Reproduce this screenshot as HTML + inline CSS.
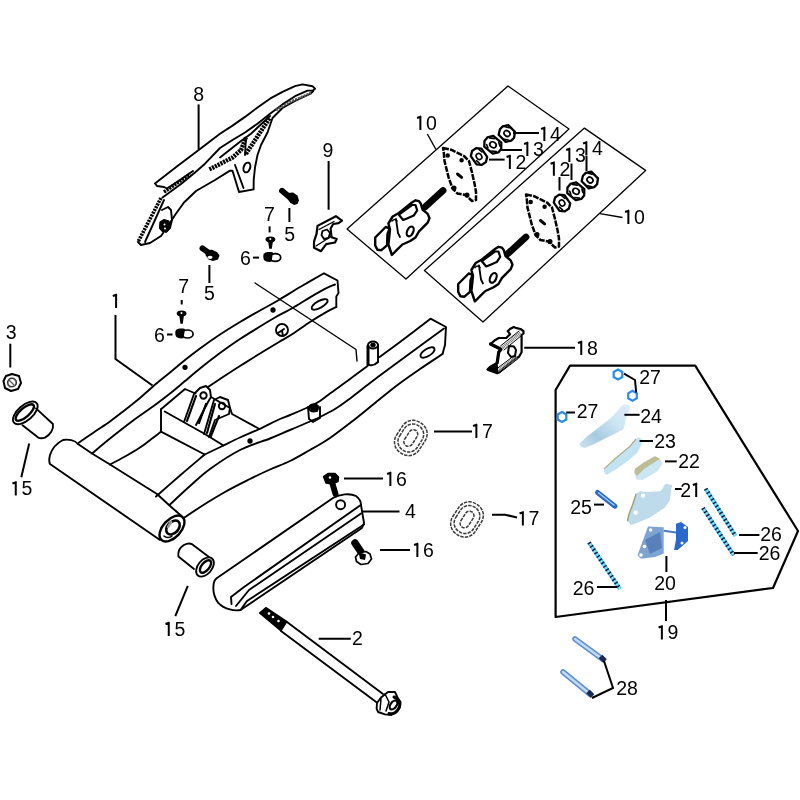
<!DOCTYPE html>
<html><head><meta charset="utf-8">
<style>
html,body{margin:0;padding:0;background:#fff;}
body{width:800px;height:800px;overflow:hidden;}
svg{display:block;}
.t{-webkit-font-smoothing:antialiased;}
.t{font-family:"Liberation Sans",sans-serif;font-size:19.5px;fill:#000;}
</style></head><body>
<svg width="800" height="800" viewBox="0 0 800 800">
<rect width="800" height="800" fill="#fff"/>
<g fill="none" stroke="#000" stroke-width="1.9" stroke-linejoin="round" stroke-linecap="round">

<!-- ===== Part 8 chain guard ===== -->
<g id="p8">
<path d="M313,90.6 L315,88.7 L312.5,86.2 L302.5,84.4 L295,86.2 L282.5,91.9 L270,98.7 L257.5,107.5 L245,116.9 L232.5,125.6 L220,133.7 L198.7,150 L177.5,166 L155,183.5 L157,186 L164,187 L167,188.5 L180,180 L193,171"/>
<path d="M313,90.6 L307.5,90.6 L295,96.2 L282.5,104.4 L270,113.7 L257.5,123.7 L245,132.5 L232.5,140 L220,148 L205,163.7 L195,172.5 L181,184 L166,195 L162.5,197.5"/>
<path d="M313,91.5 L310,94 L295,101 L282.5,108 L272.5,118 L267.5,132.5 L261,145 L257.5,155 L255,167.5 L253.7,180 L253.6,189.4 L239,192 L232.5,170.7 L230,170.6 L215,180 L196,191 L184,202.5 L175,215 L168,226 L161,236 L150,243 L141,245 L138,242"/>
<path d="M220,157.5 L241,141 L251,133.7 L270,116"/>
<g stroke-width="3.6" stroke-dasharray="2.2 0.9" stroke-linecap="butt">
<path d="M164,192 L190,174"/>
<path d="M161,198 L138,242"/>
<path d="M209.4,169.4 L220,164 L232.5,157.5 L241,150 L245,140 L246,137.5" stroke-width="4.4"/>
<path d="M246,153.7 L270,117.5" stroke-width="4.4"/>
<path d="M276,110 L290,102 L311,93" stroke-width="2.6" stroke="#555"/>
</g>
<path d="M246,137.5 L245,155 L246,153.7"/>
<path d="M164,200 L145,242"/>
<path d="M235,165 L243.5,188"/>
<ellipse cx="246.9" cy="167.5" rx="3.2" ry="5" transform="rotate(20 246.9 167.5)" stroke-width="2"/>
<path d="M160,222 L164,219.5 L169,221 L170,226.5 L167.5,231 L162.5,231.5 L159.5,228 Z" fill="#000" stroke-width="1.2"/>
<circle cx="164.5" cy="224.5" r="1" fill="#fff" stroke="none"/><circle cx="165" cy="228.5" r="1" fill="#fff" stroke="none"/>
<path d="M162,210 L168,207 L171,210 L172,220 L170,228 L166,232"/>
</g>

<!-- ===== Part 1 swingarm ===== -->
<g id="p1">
<path d="M79.0,442.5 C81.7,440.7 89.8,435.0 95.0,431.5 C100.2,428.0 105.0,425.1 110.0,421.5 C115.0,417.9 120.0,413.9 125.0,410.0 C130.0,406.1 135.3,401.9 140.0,398.0 C144.7,394.1 148.0,390.8 153.0,386.5 C158.0,382.2 164.7,376.9 170.0,372.5 C175.3,368.1 180.0,364.0 185.0,360.0 C190.0,356.0 194.2,352.8 200.0,348.5 C205.8,344.2 213.3,338.9 220.0,334.5 C226.7,330.1 233.3,326.0 240.0,322.0 C246.7,318.0 253.7,314.1 260.0,310.5 C266.3,306.9 271.2,304.5 278.0,300.5 C284.8,296.5 293.3,291.0 301.0,286.5 C308.7,282.0 320.2,275.5 324.0,273.3 L337.5,280.5 L338.5,293 L336.3,296.5 L336.3,307"/>
<path d="M92.0,453.5 C95.0,451.0 103.2,443.9 110.0,438.5 C116.8,433.1 125.0,426.6 132.5,421.0 C140.0,415.4 148.8,409.6 155.0,405.0 C161.2,400.4 165.0,397.5 170.0,393.5 C175.0,389.5 180.0,385.2 185.0,381.0 C190.0,376.8 194.2,373.2 200.0,368.5 C205.8,363.8 213.3,357.9 220.0,353.0 C226.7,348.1 233.3,343.4 240.0,339.0 C246.7,334.6 254.2,330.1 260.0,326.5 C265.8,322.9 269.6,320.6 275.0,317.5 C280.4,314.4 286.7,311.4 292.5,308.0 C298.3,304.6 304.2,300.8 310.0,297.4 C315.8,294.0 323.3,289.8 327.5,287.7 C331.7,285.6 333.8,285.0 335.0,284.5"/>
<path d="M208.0,387.0 C210.0,385.7 214.7,382.5 220.0,379.0 C225.3,375.5 233.3,370.2 240.0,366.0 C246.7,361.8 253.5,357.5 260.0,353.5 C266.5,349.5 273.6,345.2 279.0,342.0 C284.4,338.8 287.3,337.3 292.5,334.0 C297.7,330.7 304.2,325.8 310.0,322.0 C315.8,318.2 323.1,313.9 327.5,311.4 C331.9,308.9 334.8,307.7 336.3,307.0"/>
<path d="M110.0,464.5 C112.5,463.2 120.0,459.3 125.0,456.5 C130.0,453.7 135.5,450.5 140.0,447.5 C144.5,444.5 148.5,441.1 152.0,438.5 C155.5,435.9 159.5,432.8 161.0,431.7"/>
<ellipse cx="319.6" cy="304.4" rx="9" ry="3.4" transform="rotate(-29 319.6 304.4)"/>
<circle cx="273" cy="310" r="1.7" fill="#000"/>
<circle cx="185" cy="367.3" r="1.7" fill="#000"/>
<circle cx="282" cy="330" r="6"/>
<path d="M278,333 L284,329 M282,331 L283,336"/>
<!-- pivot tube -->
<path d="M78,444 C75,440 68,439 63,440 C57,443 52,449 50,455 C49,459 49,462 50,464 L160,540"/>
<path d="M78,444 L92,453.5 L110,464.5 L157,494 L169.5,505.5 L181.5,516"/>
<ellipse cx="172" cy="528.5" rx="15.5" ry="9" transform="rotate(-47 172 528.5)" stroke-width="2.4" fill="#fff"/>
<ellipse cx="173" cy="527.5" rx="8" ry="5.5" transform="rotate(-47 173 527.5)" stroke-width="2.6"/>
<path d="M168,527 L171,522" stroke="#999" stroke-width="2.5"/>
<path d="M164,536 C166,538 170,538 172,536" stroke-width="1.5"/>
<!-- cross-member box -->
<path d="M161,409.2 L161,431.7 L204.7,454.5 L223.5,445.5 L204,433.5 L164.7,411.5"/>
<path d="M161,409.2 L185,389 L195.5,393.5"/>
<path d="M230,408 L232,414 L259.5,429"/>
<path d="M211,397 L230,408"/>
<!-- ears -->
<path d="M184,422 L194,394 L200,388 L206,386 L210,390 L211,397 L208,402 L196,425"/>
<path d="M187,421 L196,396 M199,423 L206,404" stroke-width="2.2" stroke-dasharray="1.5 1"/>
<circle cx="203.5" cy="395.5" r="3.2"/>
<path d="M204,434 L214,400 L220,397 L228,400 L230,408 L229,414 L215,420 L209,437"/>
<path d="M207,433 L215,404 M211,436 L219,416" stroke-width="2.2" stroke-dasharray="1.5 1"/>
<circle cx="222" cy="406" r="3.2"/>
<!-- near arm -->
<path d="M156.0,496.5 C160.0,493.0 171.9,482.5 180.0,475.5 C188.1,468.5 200.6,458.0 204.7,454.5"/>
<path d="M223.5,445.5 C226.2,444.2 234.0,440.2 240.0,437.5 C246.0,434.8 252.8,432.1 259.5,429.0 C266.2,425.9 274.9,421.3 280.0,419.0 C285.1,416.7 285.0,417.1 290.0,415.0 C295.0,412.9 305.0,408.8 310.0,406.5 C315.0,404.2 316.7,403.2 320.0,401.0 C323.3,398.8 325.0,397.2 330.0,393.5 C335.0,389.8 343.8,383.6 350.0,379.0 C356.2,374.4 364.6,368.2 367.5,366.0"/>
<path d="M379.5,357.0 C382.9,354.5 391.5,348.4 400.0,342.0 C408.5,335.6 425.4,322.6 430.5,318.7 L446,327 L445,345 L442.5,354"/>
<path d="M169.5,505.0 C172.9,501.8 183.2,492.0 190.0,486.0 C196.8,480.0 201.7,475.0 210.0,469.0 C218.3,463.0 230.0,455.1 240.0,450.0 C250.0,444.9 261.7,441.8 270.0,438.5 C278.3,435.2 283.3,432.8 290.0,430.0 C296.7,427.2 305.0,423.7 310.0,421.5 C315.0,419.3 315.8,419.1 320.0,417.0 C324.2,414.9 330.3,411.8 335.0,409.0 C339.7,406.2 342.2,404.3 348.0,400.0 C353.8,395.7 363.0,388.3 370.0,383.0 C377.0,377.7 381.7,374.2 390.0,368.0 C398.3,361.8 411.0,352.6 420.0,346.0 C429.0,339.4 440.0,331.4 444.0,328.5"/>
<path d="M184.5,517.5 C187.9,515.2 198.2,508.2 205.0,504.0 C211.8,499.8 217.5,496.2 225.0,492.0 C232.5,487.8 242.5,482.8 250.0,479.0 C257.5,475.2 263.3,472.5 270.0,469.5 C276.7,466.5 283.3,464.2 290.0,461.0 C296.7,457.8 303.3,453.8 310.0,450.0 C316.7,446.2 322.7,443.0 330.0,438.0 C337.3,433.0 346.5,425.8 354.0,420.0 C361.5,414.2 367.8,408.8 375.0,403.0 C382.2,397.2 390.0,390.7 397.5,385.0 C405.0,379.3 412.5,374.2 420.0,369.0 C427.5,363.8 438.8,356.5 442.5,354.0"/>
<ellipse cx="427.5" cy="352.5" rx="8" ry="3.6" transform="rotate(-32 427.5 352.5)"/>
<circle cx="250" cy="441" r="1.7" fill="#000"/>
<!-- pin on near arm -->
<path d="M368,364.5 L368,346" stroke-width="3"/>
<path d="M378,345 L378,362"/>
<ellipse cx="373" cy="345" rx="5" ry="3.5" stroke-width="2"/>
<ellipse cx="373" cy="345" rx="1.8" ry="1.3" fill="#000"/>
<path d="M368,364.5 C371,366 375,365 378,362" />
<!-- lug on near arm -->
<path d="M308,407 L309,419 L313,422 L320,418 L320,407"/>
<ellipse cx="313.5" cy="408" rx="4.5" ry="3.5" stroke-width="2"/>
<path d="M310,406 C312,404 316,404 318,406 L317,411 L312,411 Z" fill="#000"/>
<!-- leader line diagonal -->
<path d="M255,283 L356,349.5 L357,361" stroke-width="1.4"/>
</g>

<!-- ===== Part 4 chain slider ===== -->
<g id="p4">
<path d="M217,578 L333,498 C340,494 350,493 356,496 C360,499 361,502 361,505 L364,523 L362,528 L240.5,610 C235,611 225,610 218,602.6 C214,597 213,590 213.5,585.7 C213.5,582 215,579.5 217,578 Z"/>
<path d="M231.5,604 L231,597 L244,587 L360,505.5"/>
<path d="M236,606 L249,590 L361,513.5"/>
<path d="M240.5,610 L247,601 L364,524.5"/>
<circle cx="340.6" cy="504.7" r="4.5"/>
</g>
<!-- ===== bushings 15, nut 3 ===== -->
<g id="p15">
<ellipse cx="25.3" cy="412.9" rx="15" ry="7.5" transform="rotate(-41 25.3 412.9)"/>
<ellipse cx="24.8" cy="412.5" rx="11.5" ry="4.5" transform="rotate(-41 24.8 412.5)" stroke-width="2.4"/>
<path d="M36,408.4 L52.9,424 C54,429 50,435 45,437.6 C42,438.5 40,438.5 38.2,437.6 L22.5,425.2"/>
<ellipse cx="205" cy="567" rx="11" ry="7" transform="rotate(-50 205 567)"/>
<ellipse cx="205.5" cy="566.5" rx="7.5" ry="3.8" transform="rotate(-50 205.5 566.5)" stroke-width="2.4"/>
<path d="M209,557 L192.4,544.4 C189,542.5 184,544 181.9,546.6 C179,549 178,553 178.4,556.5 L194,569"/>
</g>
<g id="p3">
<path d="M6,376 L12,374 L19,376 L21,383 L18,389 L11,391 L5,388 L3.5,381 Z" stroke-width="2"/>
<circle cx="12" cy="382.5" r="4.3" stroke="#333" stroke-width="1.6"/>
<path d="M9,380 L14,385 M8,385 L10,387 M14,379 L16,381" stroke="#555" stroke-width="1.2"/>
</g>
<!-- ===== bolt 2 ===== -->
<g id="p2">
<path d="M287,622 L383,694 M281,631 L377.5,703"/>
<path d="M259.5,613 L266,607.5 L287,621.5 L281,631 Z" fill="#000" stroke-width="1.2"/>
<g fill="#fff" stroke="none"><circle cx="269" cy="613.5" r="1.3"/><circle cx="273" cy="617" r="1.3"/><circle cx="278.5" cy="621" r="1.3"/></g>
<path d="M377,703 L381,697.5 L388,692 L395,692 L397.5,697.5 L400.6,702 L400,707 L396.2,712.5 L391.2,715 L385,714.4 L378.1,712 L376.6,708.7 Z" stroke-width="1.9" fill="#fff"/>
<path d="M394,697 C399,699 401,704 399,708 C397,712 393,714.5 389,713.5" stroke-width="3"/>
<ellipse cx="393.5" cy="705" rx="3" ry="5" transform="rotate(35 393.5 705)" stroke-width="2.2"/>
<path d="M381,699 L380,710 M385,694 L389,702 L386,711" stroke-width="1.5"/>
</g>
<!-- ===== bolts 16 ===== -->
<g id="p16">
<path d="M332,482 L335.5,494" stroke-width="6" stroke-linecap="round"/>
<path d="M323.5,476.5 L328,473.5 L335,473.5 L338.5,477 L338,481.5 L332,484 L326,483 Z" fill="#000" stroke-width="1.5"/>
<circle cx="330" cy="477.5" r="1.2" fill="#fff" stroke="none"/>
<path d="M355,543 L362,553.5" stroke-width="7.5" stroke-linecap="round"/>
<path d="M355.5,557 L359,553 L366,551.5 L370,554 L371.5,559 L368,563.5 L361,564.5 L356.5,561.5 Z" fill="#fff" stroke-width="1.7"/>
<path d="M358.5,552 L366,554.5 L365,560 L360,559 Z" fill="#000" stroke="none"/>
</g>
<!-- ===== bolts 5, screws 7, washers 6 ===== -->
<g id="b5">
<path d="M282,190.8 L290,197.5" stroke-width="5.8" stroke-linecap="round"/>
<path d="M287.5,193 L293,192.5 L297.5,195.5 L299,200.5 L297.5,204 L294,205 L290,202.5 L287,198 Z" fill="#000" stroke="none"/>
</g>
<g>
<path d="M202.5,248.3 L209,253" stroke-width="5.8" stroke-linecap="round"/>
<path d="M206,250 L212,249.8 L217,252 L219.5,255.5 L218,259.5 L213,261 L208.5,259.5 L205.5,255 Z" fill="#000" stroke="none"/>
<ellipse cx="210" cy="257.3" rx="2.6" ry="1.6" fill="#fff" stroke="none"/>
</g>
<g fill="#000" stroke="none">
<ellipse cx="270.4" cy="239.4" rx="4.9" ry="2.8"/>
<path d="M268,240.5 L273,240.5 L271.8,248.8 L269.2,248.8 Z"/>
<ellipse cx="181.6" cy="313.5" rx="4.9" ry="2.9"/>
<path d="M179.2,314.5 L184,314.5 L182.8,323.8 L180.4,323.8 Z"/>
</g>
<g fill="#fff" stroke="none">
<circle cx="270.3" cy="239" r="1"/>
<circle cx="181.5" cy="313" r="1"/>
</g>
<g>
<ellipse cx="275.3" cy="257.5" rx="5.4" ry="3.9" stroke-width="1.7"/>
<path d="M264,253.5 C266,252 270,251.8 273,252.5 L271.5,261.8 C268,262.3 265.5,261.5 264,260 C263,258 263,255 264,253.5 Z" fill="#000" stroke="none"/>
<ellipse cx="187.5" cy="334" rx="5.6" ry="4" stroke-width="1.7"/>
<path d="M176,330 C178,328.5 182,328.3 185,329 L183.5,338.3 C180,338.8 177.5,338 176,336.5 C175,334.5 175,331.5 176,330 Z" fill="#000" stroke="none"/>
</g>

<!-- ===== grommets 17 ===== -->
<g id="p17" stroke="#3a3a3a" stroke-width="1.5" stroke-dasharray="3.4 1.1" stroke-linecap="butt">
<g transform="translate(410.8 438) rotate(-57)">
<rect x="-18" y="-13.5" width="36" height="27" rx="12.5"/>
<rect x="-14.5" y="-10.5" width="29" height="21" rx="10"/>
<rect x="-9" y="-4.5" width="18" height="9" rx="4.5"/>
</g>
<g transform="translate(467 519.5) rotate(-57)">
<rect x="-18" y="-13.5" width="36" height="27" rx="12.5"/>
<rect x="-14.5" y="-10.5" width="29" height="21" rx="10"/>
<rect x="-9" y="-4.5" width="18" height="9" rx="4.5"/>
</g>
</g>

<!-- ===== boxes 10 ===== -->
<g stroke-width="1.3">
<path d="M347,229 L508,86 L569,129 L406,279 Z"/>
<path d="M424.4,270.6 L584.4,128.1 L645.6,170.4 L483,322 Z"/>
</g>
<!-- ===== adjuster assembly (upper) ===== -->
<g id="adj">
<path d="M443,148 L451,149.7 L464,156 L469,161 L472,172.5 L474.6,184 L476,192 L476,200 L472,201 L465.6,195 L457.5,193.6 L452.6,188.7 L448.6,177.4 L444.5,161 L443.7,151.4 Z" stroke-width="2.5" stroke-dasharray="6 1.2" stroke-linecap="butt"/>
<circle cx="447.7" cy="155.4" r="1.3" fill="#000"/>
<circle cx="461.6" cy="160.3" r="1.3" fill="#000"/>
<circle cx="454" cy="188" r="1.6" fill="#000"/>
<circle cx="467" cy="195" r="1.6" fill="#000"/>
<path d="M457.5,174 L461.6,177.4" stroke-width="3"/>
<path d="M443,190.5 L425,207" stroke-width="6.8" stroke-linecap="round"/>
<path d="M388.4,223.5 L392.7,216.5 L398.9,213 L412,202.5 L415.5,200.3 L419,201.2 L420.7,203.4 L422.5,209.5 L427.7,213.9 L429.5,218.2 L427.7,222.6 L422.5,227.9 L419,231.4 L415.5,237.5 L410.2,241 L402.4,244.5 L397.1,249.7 L391.9,255 L388.4,244.5 L390,229.6 Z" stroke-width="2.4"/>
<path d="M375.2,237.5 L385.7,227 L389.7,228.3 L387.5,234 L387,245.4 L381.4,250.2 L377.4,249.7 L375.2,245.4 Z" stroke-width="2.4"/>
<path d="M398.9,214.7 L412,205 L415.5,205 L417.2,210.4 L413.7,215.6 L407.6,218.2 L403.2,220 Z" stroke-width="2.2"/>
<path d="M396,219 L398,233 L400,237" stroke-width="1.8"/>
<path d="M392,221 C394,219 396,219 397,221" stroke-width="1.6"/>
<ellipse cx="410.2" cy="231.4" rx="3" ry="5.2" transform="rotate(25 410.2 231.4)" stroke-width="2.2"/>
<!-- washer 12, nut 13, nut 14 -->
<g stroke-width="2.3">
<g transform="translate(479 156.5) rotate(55)"><path d="M-8.5,-2.5 L-5,-6.5 L5,-6.5 L8.5,-2.5 L8.5,2.5 L5,6.5 L-5,6.5 L-8.5,2.5 Z" fill="#fff"/><ellipse rx="3.2" ry="2.6" stroke-width="1.6"/><path d="M-6,-4 L-2,-5 M2,4.5 L6,3.5" stroke-width="1.6"/></g>
<g transform="translate(493 144.8) rotate(40)"><path d="M-9,-2 L-5.5,-7 L5,-7 L9,-2 L9,2.5 L5.5,7 L-5.5,7 L-9,2.5 Z" fill="#fff"/><ellipse rx="3.4" ry="2.8" stroke-width="1.7"/><path d="M-7,-3 L-3,-5.5 M3,5.5 L7,3 M-5,4 L-2,5.5 M3,-5.5 L6,-3.5" stroke-width="1.6"/></g>
<g transform="translate(507 133.5) rotate(45)"><path d="M-8,-2 L-5,-6.8 L4.5,-6.8 L8,-2 L8,2 L5,6.8 L-5,6.8 L-8,2 Z" fill="#fff"/><ellipse rx="3.2" ry="2.7" stroke-width="1.7"/><path d="M-6,-3.5 L-2.5,-5.5 M2.5,5.5 L6,3.5" stroke-width="1.6"/></g>
</g>
</g>
<g transform="translate(83 46.5)">
<path d="M443,148 L451,149.7 L464,156 L469,161 L472,172.5 L474.6,184 L476,192 L476,200 L472,201 L465.6,195 L457.5,193.6 L452.6,188.7 L448.6,177.4 L444.5,161 L443.7,151.4 Z" stroke-width="2.5" stroke-dasharray="6 1.2" stroke-linecap="butt"/>
<circle cx="447.7" cy="155.4" r="1.3" fill="#000"/>
<circle cx="461.6" cy="160.3" r="1.3" fill="#000"/>
<circle cx="454" cy="188" r="1.6" fill="#000"/>
<circle cx="467" cy="195" r="1.6" fill="#000"/>
<path d="M457.5,174 L461.6,177.4" stroke-width="3"/>
<path d="M443,190.5 L425,207" stroke-width="6.8" stroke-linecap="round"/>
<path d="M388.4,223.5 L392.7,216.5 L398.9,213 L412,202.5 L415.5,200.3 L419,201.2 L420.7,203.4 L422.5,209.5 L427.7,213.9 L429.5,218.2 L427.7,222.6 L422.5,227.9 L419,231.4 L415.5,237.5 L410.2,241 L402.4,244.5 L397.1,249.7 L391.9,255 L388.4,244.5 L390,229.6 Z" stroke-width="2.4"/>
<path d="M375.2,237.5 L385.7,227 L389.7,228.3 L387.5,234 L387,245.4 L381.4,250.2 L377.4,249.7 L375.2,245.4 Z" stroke-width="2.4"/>
<path d="M398.9,214.7 L412,205 L415.5,205 L417.2,210.4 L413.7,215.6 L407.6,218.2 L403.2,220 Z" stroke-width="2.2"/>
<path d="M396,219 L398,233 L400,237" stroke-width="1.8"/>
<path d="M392,221 C394,219 396,219 397,221" stroke-width="1.6"/>
<ellipse cx="410.2" cy="231.4" rx="3" ry="5.2" transform="rotate(25 410.2 231.4)" stroke-width="2.2"/>
<!-- washer 12, nut 13, nut 14 -->
<g stroke-width="2.3">
<g transform="translate(479 156.5) rotate(55)"><path d="M-8.5,-2.5 L-5,-6.5 L5,-6.5 L8.5,-2.5 L8.5,2.5 L5,6.5 L-5,6.5 L-8.5,2.5 Z" fill="#fff"/><ellipse rx="3.2" ry="2.6" stroke-width="1.6"/><path d="M-6,-4 L-2,-5 M2,4.5 L6,3.5" stroke-width="1.6"/></g>
<g transform="translate(493 144.8) rotate(40)"><path d="M-9,-2 L-5.5,-7 L5,-7 L9,-2 L9,2.5 L5.5,7 L-5.5,7 L-9,2.5 Z" fill="#fff"/><ellipse rx="3.4" ry="2.8" stroke-width="1.7"/><path d="M-7,-3 L-3,-5.5 M3,5.5 L7,3 M-5,4 L-2,5.5 M3,-5.5 L6,-3.5" stroke-width="1.6"/></g>
<g transform="translate(507 133.5) rotate(45)"><path d="M-8,-2 L-5,-6.8 L4.5,-6.8 L8,-2 L8,2 L5,6.8 L-5,6.8 L-8,2 Z" fill="#fff"/><ellipse rx="3.2" ry="2.7" stroke-width="1.7"/><path d="M-6,-3.5 L-2.5,-5.5 M2.5,5.5 L6,3.5" stroke-width="1.6"/></g>
</g>
</g>


<!-- ===== Part 18 ===== -->
<g id="p18">
<path d="M490.5,344 L495,340.2 L498.7,338 L506.2,338 L510,334.2 L507.7,331.2 L510,329 L513.7,327 L516.7,328.2 L520.5,329 L523.5,331.2 L523.5,333.5 L521.6,335 L521.6,352.2 L519,356.7 L516,358.2 L508.5,364.2 L498.7,372.5 L497.2,373.2 L489,370.2 L487.5,369.5 L489.7,367.2 L497.2,362.7 L498.7,352.2 L501,349.2 Z" stroke-width="2.2"/>
<path d="M490.5,344 L501,349.2 L498.7,352.2 L497.2,362.7" stroke-width="3.2"/>
<path d="M502.5,347.7 L520.5,332.7" stroke-width="3.4" stroke="#777" stroke-dasharray="1 0.7" stroke-linecap="butt"/>
<path d="M500.5,346 L519,331 M504,350 L521.5,335.5" stroke-width="1"/>
<path d="M498,371 L516.7,356.7" stroke-width="3.4" stroke="#777" stroke-dasharray="1 0.7" stroke-linecap="butt"/>
<path d="M496.5,369 L515,355 M499.5,373 L518,358.7" stroke-width="1"/>
<path d="M488,369.5 L491,366.5 L497,364 L497.5,373 Z" fill="#000" stroke-width="1.5"/>
<path d="M509,346 L514,346.5 L516,350 L515,356 L511,357 L508,353 Z" stroke-width="2"/>
</g>

<!-- ===== Panel 19 ===== -->
<path d="M555.6,390 L570,365.6 L695.2,365.6 L798,531 L773,588 L555.6,617 Z" stroke-width="2.2"/>

<!-- ===== Part 9 ===== -->
<path d="M317.5,225.9 L335.9,216.2 L342,220.6 L338.5,223.2 L333.2,224 L330.6,228.5 L331.5,237.2 L336.7,239 L335,242.5 L326.2,244.2 L321,251.2 L314,247.7 L314,241.6 L316.6,233.7 Z" stroke-width="2.2"/>
<path d="M322.5,231 L327,229.5 L330,233 L328.5,238 L324,239 L321.5,235 Z" stroke-width="1.8"/>
<path d="M316,246 L331,236.5 M319,229.5 L334,221.5" stroke-width="1.4"/>

</g>

<!-- ===== panel contents ===== -->
<defs>
<linearGradient id="g24" x1="0" y1="1" x2="1" y2="0">
<stop offset="0" stop-color="#cfe6f3"/><stop offset="0.3" stop-color="#a8cbe0"/><stop offset="0.65" stop-color="#cde6f4"/><stop offset="1" stop-color="#dcedf7"/>
</linearGradient>
<linearGradient id="gpin" x1="0" y1="0" x2="0" y2="1">
<stop offset="0" stop-color="#5f8fcf"/><stop offset="0.5" stop-color="#b8d4f0"/><stop offset="1" stop-color="#6f9ad4"/>
</linearGradient>
</defs>
<g stroke="none">
<!-- 27 rings -->
<g fill="none" stroke="#2b8de6" stroke-width="2.2">
<path d="M618,369.5 L622.3,372 L622.3,377 L618,379.5 L613.7,377 L613.7,372 Z"/>
<path d="M632.5,390.8 L636.8,393.3 L636.8,398.3 L632.5,400.8 L628.2,398.3 L628.2,393.3 Z"/>
<path d="M562,412 L566.3,414.5 L566.3,419.5 L562,422 L557.7,419.5 L557.7,414.5 Z"/>
</g>
<!-- 24 -->
<path d="M579.5,443.5 L587,436.5 L598,428 L609,419.5 L617,411.5 L621,406.5 L624,404.5 L628,404.5 L630.5,408 L628,412.5 L626,418 L625,424 L623.5,429 L614,434 L603,439.5 L593,444.5 L585,448 L580.5,447 Z" fill="url(#g24)"/>
<path d="M583,446.5 L593,444.5 L603,439.5 L614,434 L623.5,429" fill="none" stroke="#e8c8c0" stroke-width="0.8" stroke-dasharray="1 1.5"/>
<!-- 23 -->
<path d="M603.7,471.2 L606.2,475 L615,470 L627.5,461.2 L637.5,452.5 L641.2,445 L642.5,440 L638.7,436.9 L635,440 L630,446.2 L615,458.7 L605,468.7 Z" fill="#c2e3f3"/>
<path d="M604,469 L615,458.7 L630,446.2 L636,439" fill="none" stroke="#b0b088" stroke-width="1.2"/>
<!-- 22 -->
<path d="M634.4,472.5 L636.2,479.4 L642.5,480 L657.5,471.2 L662.5,463.7 L660,458.7 L655,456.2 L643.7,462.5 L635,468.7 Z" fill="#cbe6f3"/>
<path d="M634.4,472.5 L635,468.7 L643.7,462.5 L655,456.2 L660,458.7 L644,469 L637,476 Z" fill="#bdbd95"/>
<!-- 21 -->
<path d="M627.5,521.2 L631.2,525 L635,523.7 L650,517.5 L665,507.5 L670,500 L671.2,488.7 L672.5,485 L665,483.7 L662.5,488.7 L660,491.2 L646.2,491.9 L640,491.2 L636.2,493.7 L632.5,505 L628.7,515 Z" fill="#bddbeb"/>
<path d="M636.2,493.7 L632.5,505 L628.7,515 L627.5,521.2" fill="none" stroke="#a0a070" stroke-width="1.4"/>
<circle cx="643" cy="495.6" r="2.2" fill="#fff"/>
<circle cx="635.6" cy="512.5" r="2.2" fill="#fff"/>
<!-- 25 -->
<path d="M597.5,492.5 L615,506.2" fill="none" stroke="#2c66c8" stroke-width="5" stroke-linecap="round"/>
<path d="M598,492.5 L614.5,505.5" fill="none" stroke="#9fd0f4" stroke-width="1.4"/>
<!-- 20 -->
<path d="M637.5,555.2 L648,526.4 L663.7,527.2 L663.7,553.5 L655,557 L641,558.7 Z" fill="#7ea4d4"/>
<path d="M645,540 L660,532 L662,548 L650,554 Z" fill="#5a80bc"/>
<circle cx="650.6" cy="530" r="1.8" fill="#fff"/>
<circle cx="644.5" cy="546.5" r="1.8" fill="#fff"/>
<circle cx="641" cy="555" r="1.8" fill="#fff"/>
<path d="M663.7,530.7 L676,532.5" fill="none" stroke="#4a7cc4" stroke-width="2"/>
<path d="M676,523.7 L681,522 L688,527 L688,541 L677.7,550 L674,550 L676,539.5 Z" fill="#2a68cc"/>
<circle cx="685" cy="527.5" r="1.5" fill="#fff"/>
<circle cx="682" cy="543" r="1.5" fill="#fff"/>
<!-- 26 studs -->
<g fill="none" stroke-linecap="butt">
<path d="M705.7,488.7 L735.5,536.0" stroke="#4cc6f4" stroke-width="4"/>
<path d="M705.7,488.7 L735.5,536.0" stroke="#0c1c44" stroke-width="4" stroke-dasharray="1.4 2.6"/>
<path d="M705.7,488.7 L735.5,536.0" stroke="#b0ecff" stroke-width="1.2" stroke-dasharray="1.6 2.4" stroke-dashoffset="2.2"/>
<path d="M703.0,508.0 L733.7,555.2" stroke="#4cc6f4" stroke-width="4"/>
<path d="M703.0,508.0 L733.7,555.2" stroke="#0c1c44" stroke-width="4" stroke-dasharray="1.4 2.6"/>
<path d="M703.0,508.0 L733.7,555.2" stroke="#b0ecff" stroke-width="1.2" stroke-dasharray="1.6 2.4" stroke-dashoffset="2.2"/>
<path d="M589.0,542.5 L620.0,589.0" stroke="#4cc6f4" stroke-width="4"/>
<path d="M589.0,542.5 L620.0,589.0" stroke="#0c1c44" stroke-width="4" stroke-dasharray="1.4 2.6"/>
<path d="M589.0,542.5 L620.0,589.0" stroke="#b0ecff" stroke-width="1.2" stroke-dasharray="1.6 2.4" stroke-dashoffset="2.2"/>
</g>
<!-- 28 pins -->
<g fill="none" stroke-linecap="round">
<path d="M575,639 L603,659.5 M563,672 L590.5,694.5" stroke="#5f8fd0" stroke-width="5.6"/>
<path d="M575,639 L603,659.5 M563,672 L590.5,694.5" stroke="#c4dcf2" stroke-width="2.4"/>
<path d="M600.5,656.5 L605,661 M588,691.5 L592.5,696" stroke="#1a2a50" stroke-width="5" stroke-linecap="butt"/>
</g>
</g>

<!-- leader lines -->
<g stroke="#000" stroke-width="2" fill="none" stroke-linecap="butt">
<path d="M198.6,104.4 V149.4"/>
<path d="M328.6,161 V209.7"/>
<path d="M269.6,226.4 V232.4"/>
<path d="M289.4,208 V222"/>
<path d="M253,257.6 H259"/>
<path d="M209.4,265 V283"/>
<path d="M181.7,300 V304.5"/>
<path d="M167,334.5 H172.5"/>
<path d="M115.5,315 V359 L152.5,385.5"/>
<path d="M10.3,343.7 V367.5"/>
<path d="M29.2,443.6 L21.3,477.3"/>
<path d="M187.8,585.8 L175.3,616.2"/>
<path d="M318.7,638.8 H350.8"/>
<path d="M344,478.6 H383"/>
<path d="M362,511.6 H399.5"/>
<path d="M380,550 H410"/>
<path d="M434,431.5 H472"/>
<path d="M492,514.7 L505,514.7 L517,517.5"/>
<path d="M524.2,347.7 H575"/>
<path d="M427.3,134 L436,149.5" stroke-width="1.4"/>
<path d="M489,159.6 H504.6"/>
<path d="M500,150 H522"/>
<path d="M513,133 H539"/>
<path d="M559.5,177 V190.5"/>
<path d="M571.5,163.5 V180"/>
<path d="M586.5,156 V171"/>
<path d="M600,213.6 L622.5,217.5" stroke-width="1.4"/>
<path d="M624,373.7 L635,380 L636.2,392.5"/>
<path d="M566.2,412.5 H575"/>
<path d="M624.4,414.8 H639.6"/>
<path d="M639.6,441 H653"/>
<path d="M665,461.4 H676.7"/>
<path d="M675,489 H681.7"/>
<path d="M594,504.6 H604"/>
<path d="M739,535 H759.4"/>
<path d="M734,553 H757.7"/>
<path d="M597,587 H617"/>
<path d="M666.4,556 V572"/>
<path d="M666,600 V621"/>
<path d="M604,661 L613,688 L592,698"/>
</g>
<!-- labels -->
<g class="t" style="will-change:transform">
<text x="193.33" y="101.05">8</text>
<text x="322.58" y="156.95">9</text>
<text x="264.08" y="220.95">7</text>
<text x="284.33" y="240.70">5</text>
<text x="240.08" y="264.95">6</text>
<text x="204.08" y="300.45">5</text>
<text x="178.18" y="293.45">7</text>
<text x="153.88" y="342.15">6</text>
<text x="5.78" y="339.25">3</text>
<text x="21.40" y="495.45">5</text>
<text x="174.40" y="635.95">5</text>
<text x="352.08" y="644.95">2</text>
<text x="396.00" y="485.95">6</text>
<text x="405.08" y="517.95">4</text>
<text x="423.00" y="556.95">6</text>
<text x="482.00" y="437.95">7</text>
<text x="528.50" y="525.45">7</text>
<text x="586.90" y="354.95">8</text>
<text x="426.00" y="129.95">0</text>
<text x="550.00" y="140.95">4</text>
<text x="533.00" y="155.95">3</text>
<text x="515.50" y="168.95">2</text>
<text x="559.50" y="175.70">2</text>
<text x="575.00" y="161.95">3</text>
<text x="592.00" y="155.45">4</text>
<text x="634.00" y="223.95">0</text>
<text x="639.16" y="383.95">2</text>
<text x="650.00" y="383.95">7</text>
<text x="576.66" y="417.95">2</text>
<text x="587.50" y="417.95">7</text>
<text x="640.16" y="422.95">2</text>
<text x="651.00" y="422.95">4</text>
<text x="654.16" y="447.95">2</text>
<text x="665.00" y="447.95">3</text>
<text x="678.16" y="467.95">2</text>
<text x="689.00" y="467.95">2</text>
<text x="680.16" y="496.95">2</text>
<text x="570.16" y="513.95">2</text>
<text x="581.00" y="513.95">5</text>
<text x="760.16" y="540.95">2</text>
<text x="771.00" y="540.95">6</text>
<text x="758.66" y="559.95">2</text>
<text x="769.50" y="559.95">6</text>
<text x="572.66" y="594.95">2</text>
<text x="583.50" y="594.95">6</text>
<text x="654.16" y="589.65">2</text>
<text x="665.00" y="589.65">0</text>
<text x="667.50" y="639.45">9</text>
<text x="616.16" y="694.95">2</text>
<text x="627.00" y="694.95">8</text>
</g>
<path d="M116.10,294.05 V307.95 M117.00,294.55 L112.80,296.05 M15.76,481.55 V495.45 M16.66,482.05 L12.46,483.55 M168.76,622.05 V635.95 M169.66,622.55 L165.46,624.05 M390.36,472.05 V485.95 M391.26,472.55 L387.06,474.05 M417.36,543.05 V556.95 M418.26,543.55 L414.06,545.05 M476.36,424.05 V437.95 M477.26,424.55 L473.06,426.05 M522.86,511.55 V525.45 M523.76,512.05 L519.56,513.55 M581.26,341.05 V354.95 M582.16,341.55 L577.96,343.05 M420.36,116.05 V129.95 M421.26,116.55 L417.06,118.05 M544.36,127.05 V140.95 M545.26,127.55 L541.06,129.05 M527.36,142.05 V155.95 M528.26,142.55 L524.06,144.05 M509.86,155.05 V168.95 M510.76,155.55 L506.56,157.05 M553.86,161.80 V175.70 M554.76,162.30 L550.56,163.80 M569.36,148.05 V161.95 M570.26,148.55 L566.06,150.05 M586.36,141.55 V155.45 M587.26,142.05 L583.06,143.55 M628.36,210.05 V223.95 M629.26,210.55 L625.06,212.05 M696.20,483.05 V496.95 M697.10,483.55 L692.90,485.05 M661.86,625.55 V639.45 M662.76,626.05 L658.56,627.55" stroke="#000" stroke-width="2" fill="none" stroke-linecap="butt"/>
</svg>
</body></html>
